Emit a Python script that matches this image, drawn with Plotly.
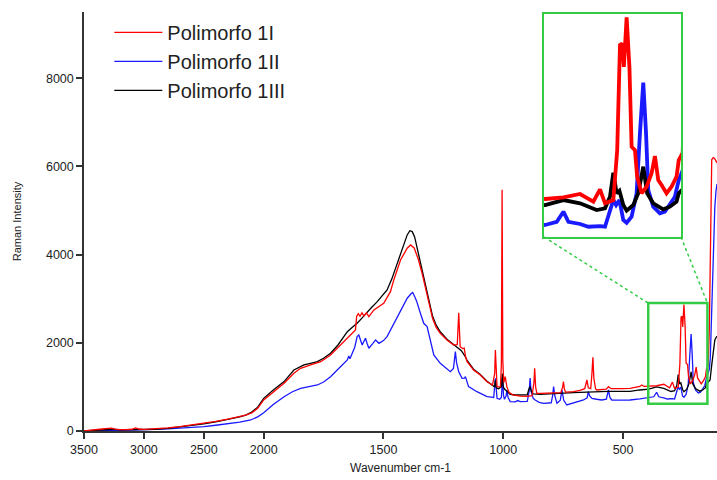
import plotly.graph_objects as go

# ---------------- data ----------------
red_wn = [3500, 3450, 3400, 3350, 3300, 3270, 3240, 3200, 3150, 3100, 3070, 3040, 3000, 2900, 2800,
          2700, 2600, 2500, 2400, 2300, 2200, 2150, 2100, 2050, 2000, 1960, 1915, 1874, 1846, 1804,
          1762, 1721, 1679, 1651, 1630, 1617, 1612, 1605, 1598, 1590, 1582, 1571, 1561, 1540, 1499,
          1471, 1457, 1429, 1401, 1387, 1372, 1355, 1340, 1325, 1310, 1295, 1280, 1263, 1235, 1207,
          1192, 1186, 1180, 1170, 1163, 1158, 1151, 1124, 1096, 1068, 1045, 1036, 1033, 1029, 1026,
          1012, 1008, 1005, 1002, 998, 992, 985, 975, 960, 929, 901, 880, 872, 869, 865,
          860, 846, 790, 760, 752, 749, 745, 740, 707, 680, 660, 651, 645, 635, 630,
          626, 622, 615, 610, 570, 561, 550, 500, 471, 430, 422, 412, 400, 393, 360,
          330, 306, 294, 285, 270, 263, 258, 254, 251, 246, 241, 237, 231, 227, 219,
          210, 201, 195, 189, 183, 174, 165, 156, 152, 145, 140, 135, 130, 124, 118, 112, 108]
red_int = [0, 10, 25, 45, 60, 62, 45, 30, 30, 40, 70, 45, 35, 45, 70,
           100, 135, 175, 220, 270, 325, 360, 410, 515, 703, 880, 1082, 1308, 1422, 1497,
           1572, 1724, 1950, 2102, 2220, 2291, 2600, 2660, 2600, 2680, 2610, 2680, 2592, 2744, 2896,
           3160, 3425, 3878, 4144, 4219, 4150, 3900, 3600, 3250, 2850, 2550, 2350, 2215, 2064, 1950,
           1960, 2683, 1912, 1870, 1880, 1700, 1572, 1383, 1270, 1118, 1043, 1300, 1837, 1200, 1005,
           1000, 1500, 5470, 1600, 1100, 1232, 1000, 870, 820, 790, 785, 800, 1100, 1422, 1000,
           850, 855, 855, 870, 1000, 1118, 950, 880, 891, 920, 960, 1157, 980, 960, 1300,
           1671, 1200, 960, 930, 950, 1005, 960, 960, 968, 1010, 1043, 1010, 1010, 1009, 1026,
           1060, 981, 1108, 965, 998, 1509, 2583, 2600, 2361, 2866, 2361, 1543, 1509, 1237, 1067,
           1134, 1271, 1448, 1203, 1152, 1067, 1134, 1237, 1407, 1480, 2300, 4500, 6150, 6200, 6180, 6120, 6080]

blue_wn = [3500, 3400, 3300, 3200, 3100, 3000, 2900, 2800, 2700, 2600, 2500, 2400, 2300, 2200, 2108,
           2050, 2000, 1960, 1915, 1880, 1846, 1810, 1776, 1750, 1721, 1690, 1660, 1651, 1645, 1640,
           1620, 1610, 1603, 1596, 1589, 1580, 1575, 1568, 1561, 1545, 1533, 1519, 1500, 1485, 1465,
           1443, 1420, 1401, 1385, 1378, 1370, 1362, 1346, 1332, 1318, 1304, 1290, 1263, 1240, 1221,
           1208, 1200, 1195, 1186, 1172, 1162, 1158, 1152, 1145, 1110, 1068, 1050, 1040, 1033, 1029,
           1026, 1015, 1008, 1003, 999, 995, 988, 985, 980, 971, 950, 940, 929, 900, 892,
           888, 884, 875, 867, 850, 832, 800, 794, 790, 785, 776, 762, 755, 748, 735,
           700, 665, 650, 645, 640, 630, 610, 589, 570, 561, 555, 547, 500, 471, 430,
           416, 400, 393, 372, 360, 351, 330, 315, 294, 285, 276, 270, 265, 259, 252,
           246, 237, 228, 222, 216, 211, 207, 198, 186, 177, 168, 159, 152, 145, 140,
           136, 127, 117, 112, 108]
blue_int = [0, 10, 20, 15, 20, 25, 35, 50, 65, 80, 100, 130, 160, 200, 250,
            320, 415, 600, 778, 890, 968, 1010, 1043, 1110, 1232, 1400, 1560, 1610, 1700, 1640,
            1900, 2139, 2177, 2060, 1950, 2050, 2102, 1980, 1876, 1980, 2064, 1988, 2050, 2139, 2350,
            2592, 2800, 3010, 3110, 3140, 3050, 2950, 2669, 2442, 2366, 2064, 1724, 1535, 1430, 1345,
            1420, 1799, 1550, 1345, 1194, 1200, 1232, 1100, 1005, 891, 778, 770, 760, 1194, 850,
            741, 720, 760, 1200, 800, 720, 800, 930, 760, 665, 660, 690, 665, 670, 900,
            1200, 900, 740, 703, 650, 628, 640, 800, 1005, 800, 628, 700, 930, 700, 590,
            640, 703, 750, 891, 800, 741, 720, 703, 720, 930, 760, 703, 700, 703, 730,
            741, 740, 743, 776, 879, 776, 753, 725, 732, 725, 896, 998, 947, 998, 794,
            766, 828, 1067, 1680, 2198, 1680, 1101, 930, 862, 879, 965, 1032, 1203, 1300, 1400,
            1650, 3577, 5088, 5450, 5600]

black_wn = [3500, 3400, 3300, 3250, 3200, 3100, 3000, 2900, 2800, 2700, 2600, 2500, 2400, 2300, 2200,
            2150, 2100, 2050, 2000, 1960, 1915, 1874, 1832, 1800, 1776, 1750, 1721, 1690, 1651, 1630,
            1610, 1590, 1568, 1550, 1526, 1505, 1485, 1465, 1443, 1420, 1401, 1390, 1380, 1370, 1360,
            1350, 1340, 1325, 1310, 1295, 1280, 1263, 1235, 1207, 1190, 1175, 1160, 1151, 1124, 1096,
            1068, 1045, 1036, 1033, 1029, 1020, 1008, 1004, 1000, 995, 980, 971, 950, 929, 900,
            893, 888, 883, 875, 846, 790, 749, 707, 651, 610, 561, 500, 471, 430, 400,
            393, 360, 330, 300, 285, 276, 270, 264, 259, 252, 246, 234, 225, 216, 209,
            198, 180, 168, 156, 152, 145, 137, 130, 122, 117, 112, 108]
black_int = [0, 20, 45, 40, 25, 30, 30, 40, 60, 90, 125, 160, 205, 255, 320,
             360, 430, 540, 740, 930, 1120, 1384, 1497, 1540, 1572, 1650, 1762, 1950, 2252, 2350,
             2442, 2560, 2706, 2800, 2933, 3060, 3198, 3450, 3803, 4150, 4446, 4540, 4520, 4400, 4150,
             3900, 3650, 3300, 2900, 2600, 2400, 2250, 2080, 1960, 1880, 1820, 1700, 1600, 1400, 1280,
             1130, 1050, 1000, 1150, 980, 960, 1000, 1300, 1000, 950, 880, 830, 816, 816, 820,
             950, 1005, 900, 840, 830, 850, 860, 870, 880, 891, 900, 900, 900, 930, 945,
             947, 998, 965, 896, 913, 1032, 1277, 1067, 1093, 947, 889, 947, 1067, 1339, 1067,
             965, 903, 930, 981, 1067, 1110, 1157, 1500, 1900, 2064, 2120, 2150]

series_names = ["Polimorfo 1I", "Polimorfo 1II", "Polimorfo 1III"]
x_tick_values = [3500, 3000, 2500, 2000, 1500, 1000, 500]
y_tick_values = [0, 2000, 4000, 6000, 8000]

# ---------------- axis scale (x axis is compressed above 2000 cm-1) ----------------
BREAK = 2000


def to_axis(w):
    return w if w <= BREAK else BREAK + (w - BREAK) / 2.0


X_RANGE = [to_axis(3500), 108]
Y_RANGE = [0, 9500]
INSET_X = [395, 148]
INSET_Y = [620, 2900]
INSET_DOM_X = [0.7267, 0.9431]
INSET_DOM_Y = [0.463, 0.995]

GREEN = "#33cc44"
FONT = "Arial, Liberation Sans, sans-serif"

fig = go.Figure()

series = [
    ("blue", blue_wn, blue_int, series_names[1], "#1a1aff", 2),
    ("black", black_wn, black_int, series_names[2], "#000000", 3),
    ("red", red_wn, red_int, series_names[0], "#ff0000", 1),
]

for key, wn, inten, name, color, rank in series:
    fig.add_trace(go.Scatter(
        x=[to_axis(w) for w in wn], y=inten, mode="lines", name=name,
        line=dict(color=color, width=1.3), legendrank=rank,
        xaxis="x", yaxis="y", hoverinfo="skip"))

for key, wn, inten, name, color, rank in series:
    fig.add_trace(go.Scatter(
        x=[to_axis(w) for w in wn], y=inten, mode="lines", name=name,
        line=dict(color=color, width=3.8), showlegend=False,
        xaxis="x2", yaxis="y2", hoverinfo="skip"))


def main_x_at(p):
    return X_RANGE[0] + p * (X_RANGE[1] - X_RANGE[0])


def main_y_at(p):
    return Y_RANGE[0] + p * (Y_RANGE[1] - Y_RANGE[0])


shapes = [
    # small zoom box on the main plot
    dict(type="rect", xref="x", yref="y", x0=INSET_X[0], x1=INSET_X[1], y0=INSET_Y[0], y1=INSET_Y[1],
         line=dict(color=GREEN, width=2.5), layer="above"),
    # dotted connectors
    dict(type="line", xref="x", yref="y", x0=main_x_at(INSET_DOM_X[0]), y0=main_y_at(INSET_DOM_Y[0]),
         x1=INSET_X[0], y1=INSET_Y[1], line=dict(color=GREEN, width=1.5, dash="dot")),
    dict(type="line", xref="x", yref="y", x0=main_x_at(INSET_DOM_X[1]), y0=main_y_at(INSET_DOM_Y[0]),
         x1=INSET_X[1], y1=INSET_Y[1], line=dict(color=GREEN, width=1.5, dash="dot")),
]

axis_font = dict(family=FONT, size=12.5, color="#222222")

fig.update_layout(
    width=717, height=480,
    margin=dict(l=84, r=0, t=12, b=49),
    paper_bgcolor="white", plot_bgcolor="white",
    font=dict(family=FONT, color="#222222"),
    showlegend=True,
    legend=dict(x=0.04, y=0.998, xanchor="left", yanchor="top", bgcolor="rgba(0,0,0,0)",
                font=dict(family=FONT, size=20, color="#222222"), itemwidth=48,
                traceorder="normal"),
    xaxis=dict(range=X_RANGE, tickvals=[to_axis(t) for t in x_tick_values],
               ticktext=[str(t) for t in x_tick_values], showgrid=False, zeroline=False,
               showline=True, linecolor="#333333", linewidth=1.5, ticks="outside", ticklen=6,
               tickcolor="#333333", tickwidth=1.5, tickfont=axis_font,
               title=dict(text="Wavenumber cm-1", font=dict(family=FONT, size=12, color="#222222"),
                          standoff=8)),
    yaxis=dict(range=Y_RANGE, tickvals=y_tick_values, showgrid=False, zeroline=False,
               showline=True, linecolor="#333333", linewidth=1.5, ticks="outside", ticklen=6,
               tickcolor="#333333", tickwidth=1.5, tickfont=axis_font,
               title=dict(text="Raman Intensity", font=dict(family=FONT, size=11, color="#222222"),
                          standoff=22)),
    xaxis2=dict(domain=INSET_DOM_X, range=INSET_X, anchor="y2", showgrid=False, zeroline=False,
                showticklabels=False, ticks="", showline=True, mirror=True,
                linecolor=GREEN, linewidth=2),
    yaxis2=dict(domain=INSET_DOM_Y, range=INSET_Y, anchor="x2", showgrid=False, zeroline=False,
                showticklabels=False, ticks="", showline=True, mirror=True,
                linecolor=GREEN, linewidth=2),
    shapes=shapes,
)

fig.write_html("out.html")
